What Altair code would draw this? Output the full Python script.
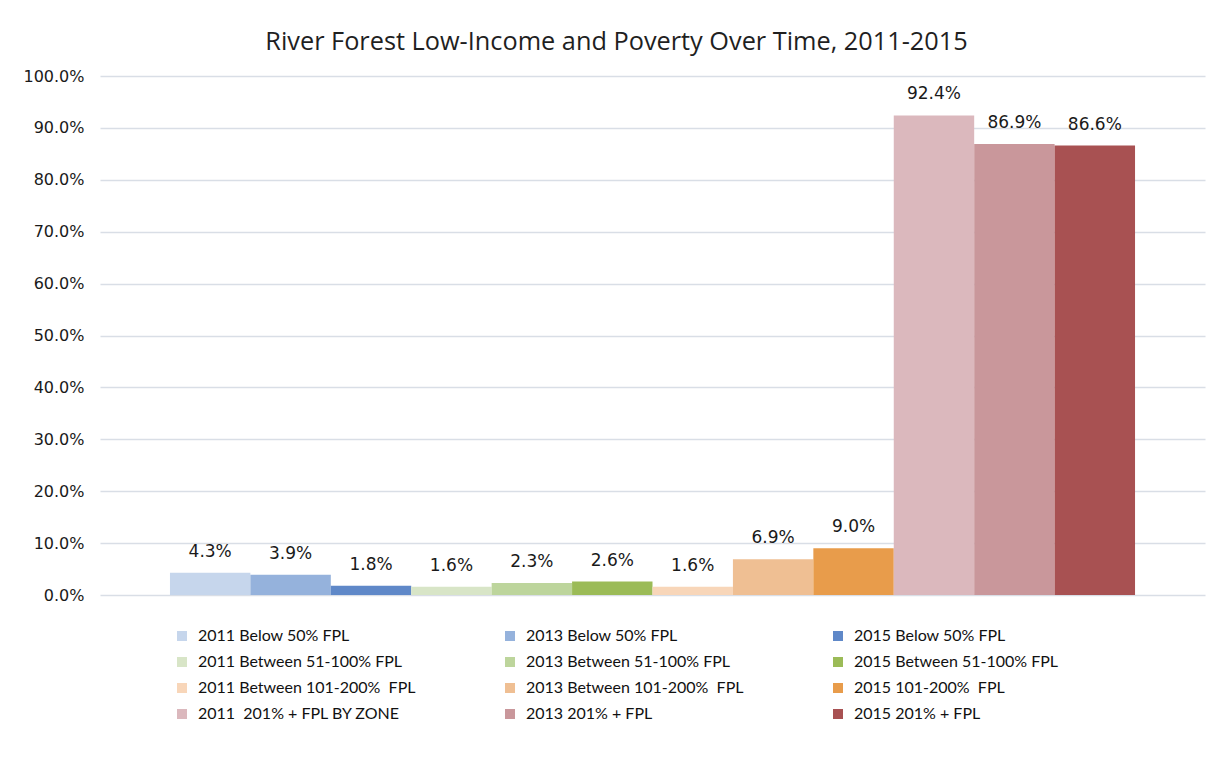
import altair as alt
import pandas as pd

series = [
    "2011 Below 50% FPL", "2013 Below 50% FPL", "2015 Below 50% FPL",
    "2011 Between 51-100% FPL", "2013 Between 51-100% FPL", "2015 Between 51-100% FPL",
    "2011 Between 101-200%\u00a0 FPL", "2013 Between 101-200%\u00a0 FPL", "2015 101-200%\u00a0 FPL",
    "2011 \u00a0201% + FPL BY ZONE", "2013 201% + FPL", "2015 201% + FPL",
]
values = [0.043, 0.039, 0.018, 0.016, 0.023, 0.026, 0.016, 0.069, 0.090, 0.924, 0.869, 0.866]
colors = [
    "#c6d6ec", "#95b2dc", "#5f88c8",
    "#d8e5c7", "#bdd59c", "#9bbb57",
    "#f8d6b9", "#efbf93", "#e89c4b",
    "#dbb8bd", "#c9979b", "#a85152",
]
y_ticks = [i / 10 for i in range(11)]

df = pd.DataFrame({"series": series, "value": values})

x = alt.X("series:N", sort=series, axis=None,
          scale=alt.Scale(paddingInner=0, paddingOuter=0.87))

bars = alt.Chart(df).mark_bar().encode(
    x=x,
    y=alt.Y("value:Q", scale=alt.Scale(domain=[0, 1]),
            axis=alt.Axis(values=y_ticks, format=".1%", title=None, domain=False,
                          ticks=False, labelPadding=16, grid=True,
                          labelFont="DejaVu Sans", labelFontSize=16, labelColor="#1a1a1a",
                          gridColor="#d9dee6", gridWidth=1.3)),
    color=alt.Color("series:N", sort=series,
                    scale=alt.Scale(domain=series, range=colors),
                    legend=alt.Legend(title=None, orient="none", legendX=74, legendY=552,
                                      direction="horizontal",
                                      columns=3, symbolType="square", symbolSize=100,
                                      symbolStrokeWidth=0, labelFont="Lato", labelFontSize=16,
                                      labelColor="#111111", columnPadding=86, rowPadding=10,
                                      gridAlign="each", labelLimit=400, labelOffset=8)),
)

labels = alt.Chart(df).mark_text(baseline="bottom", dy=-12, font="DejaVu Sans",
                                 fontSize=17, color="#1a1a1a").encode(
    x=x,
    y="value:Q",
    text=alt.Text("value:Q", format=".1%"),
)

chart = alt.layer(bars, labels).properties(
    width=1105, height=519,
    title=alt.Title("River Forest Low-Income and Poverty Over Time, 2011-2015",
                    font="Open Sans", fontSize=25.3, fontWeight="normal", color="#1f1f1f",
                    anchor="middle", dx=-36, offset=13),
    autosize=alt.AutoSizeParams(type="none"),
    padding={"left": 100, "top": 76, "right": 12, "bottom": 167},
    background="white",
).configure_view(stroke=None)

chart.save("out.html", embed_options={"renderer": "svg", "actions": False})
